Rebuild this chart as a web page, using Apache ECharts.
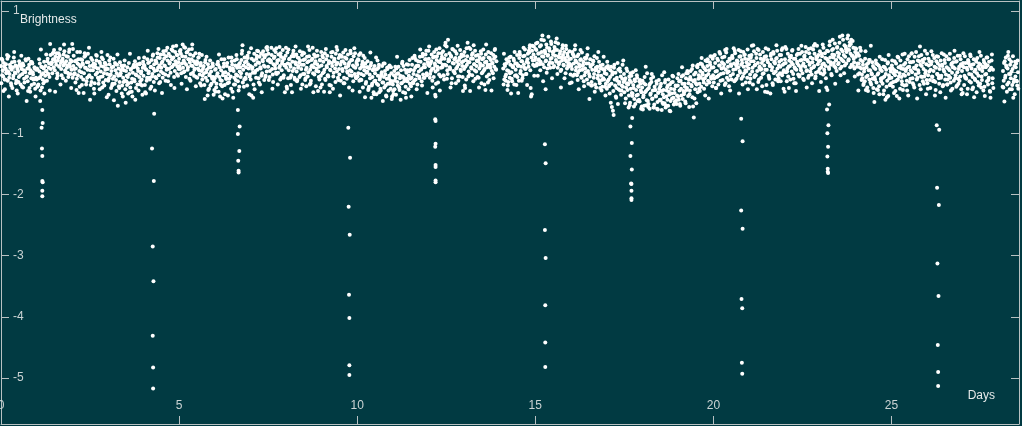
<!DOCTYPE html>
<html>
<head>
<meta charset="utf-8">
<script src="https://cdn.jsdelivr.net/npm/echarts@6/dist/echarts.min.js"></script>
<style>
html,body{margin:0;padding:0;background:#013a42;}
#c{width:1022px;height:426px;}
</style>
</head>
<body>
<div id="c"></div>
<script>
// Observation times within each day (days), three interleaved sets
const dayOffsetsA = [0.00,0.03,0.05,0.08,0.10,0.13,0.15,0.18,0.20,0.23,0.25,0.28,0.30,0.33,0.35,0.38,0.40,0.43,0.45,0.48,0.50,0.53,0.55,0.58,0.60,0.63,0.65,0.68,0.70,0.73,0.75,0.78,0.80,0.83,0.85,0.88,0.90,0.93,0.95,0.98];
const dayOffsetsB = [0.01,0.04,0.06,0.09,0.11,0.14,0.16,0.19,0.21,0.24,0.26,0.29,0.31,0.34,0.36,0.39,0.41,0.44,0.46,0.49,0.51,0.54,0.56,0.59,0.61,0.64,0.66,0.69,0.71,0.74,0.76,0.79,0.81,0.84,0.86,0.89,0.91,0.94,0.96,0.99];
const dayOffsetsC = [0.02,0.07,0.12,0.17,0.22,0.27,0.32,0.37,0.42,0.47,0.52,0.57,0.62,0.67,0.72,0.77,0.82,0.87,0.92,0.97];

// Brightness readings, set A, one array per day (null = no data)
const day00 = [0.10,-0.05,0.03,0.15,-0.12,0.06,-0.02,0.22,0.01,-0.09,0.12,-0.18,0.04,0.08,-0.06,0.17,-0.01,-0.14,0.09,0.02,-0.08,0.13,-0.20,0.05,-0.03,0.11,-0.11,0.00,0.19,-0.07,-0.15,0.07,-0.26,0.03,-0.10,0.14,-0.04,-0.19,0.06,-0.09];
const day01 = [-0.12,0.04,-0.20,0.01,-0.08,0.09,-0.25,-0.02,0.06,-0.15,0.10,0.02,0.18,-0.03,0.14,0.46,0.05,0.16,0.30,0.08,0.21,0.25,0.12,-0.02,0.19,0.09,0.27,0.15,-0.05,0.22,0.11,0.34,0.03,0.18,0.07,0.25,-0.03,0.14,0.20,0.04];
const day02 = [0.46,0.10,-0.04,0.18,0.06,-0.11,0.14,-0.34,0.02,0.09,-0.08,0.20,0.12,-0.02,0.31,0.07,-0.15,0.04,0.16,-0.05,-0.45,0.23,-0.09,0.03,0.14,-0.18,0.08,0.19,-0.01,0.06,-0.13,0.15,0.01,0.24,-0.07,0.09,-0.22,0.04,0.12,-0.03];
const day03 = [0.05,-0.10,0.13,-0.04,0.02,-0.19,0.09,-0.07,0.15,-0.13,-0.02,-0.55,0.06,-0.16,-0.05,0.11,-0.22,-0.09,0.03,-0.14,-0.50,-0.06,0.08,-0.18,-0.03,-0.25,0.05,-0.11,-0.01,0.12,-0.15,-0.04,0.09,-0.20,0.02,-0.08,0.14,-0.02,-0.12,0.07];
const day04 = [-0.06,0.10,-0.33,0.04,-0.09,0.15,0.01,-0.12,0.08,0.20,-0.03,0.06,0.13,-0.08,0.18,0.03,0.24,-0.05,0.11,0.29,0.07,0.17,-0.02,0.22,0.10,0.35,0.04,0.19,-0.06,0.14,0.26,0.08,0.21,0.42,0.12,0.02,0.18,0.28,0.09,0.16];
const day05 = [0.22,0.05,0.30,0.14,0.45,0.19,0.01,0.25,0.12,0.33,0.08,0.37,0.16,-0.03,0.21,0.10,0.27,0.04,0.15,-0.08,0.18,0.06,0.24,-0.04,0.11,0.02,-0.12,0.09,-0.02,0.16,-0.09,0.04,-0.38,0.07,-0.05,-0.22,0.01,-0.11,0.10,-0.15];
const day06 = [-0.10,0.05,-0.19,-0.02,0.12,-0.08,-0.40,0.03,-0.14,-0.05,0.09,-0.21,0.00,-0.11,0.15,-0.03,-0.17,0.06,-0.07,0.18,-0.32,0.02,-0.09,0.11,-0.04,0.07,-0.15,0.13,0.01,-0.08,0.20,0.44,0.04,-0.12,0.16,0.08,-0.03,0.23,0.06,-0.07];
const day07 = [0.10,-0.38,0.05,-0.42,0.19,-0.01,0.12,0.27,0.04,-0.10,0.15,0.08,0.30,-0.02,0.18,0.11,0.24,-0.06,0.40,0.36,0.09,0.21,0.02,0.17,0.28,-0.04,0.13,0.25,0.06,0.39,0.15,-0.01,0.20,0.10,0.31,0.03,0.18,-0.09,0.22,0.12];
const day08 = [0.40,-0.27,0.14,0.03,0.22,0.09,-0.05,0.17,0.30,0.06,-0.12,0.13,0.01,0.24,0.10,-0.08,0.19,0.05,0.28,-0.03,0.12,0.21,-0.10,0.07,0.16,0.00,0.26,0.04,-0.14,0.11,0.40,0.08,-0.04,0.18,0.02,0.13,-0.31,0.09,0.20,-0.06];
const day09 = [0.11,-0.02,0.17,0.04,-0.11,0.21,0.08,-0.05,0.14,-0.33,0.03,0.25,0.10,-0.07,0.19,0.06,0.30,0.01,0.15,0.23,-0.04,0.12,0.27,0.05,0.18,-0.09,0.14,0.08,0.22,-0.01,0.10,0.16,0.03,0.20,-0.06,0.11,0.26,-0.03,0.07,0.15];
const day10 = [0.12,-0.02,0.28,0.06,-0.12,0.09,0.17,-0.05,0.03,0.14,-0.16,0.01,0.08,-0.24,-0.04,0.11,-0.42,-0.08,0.05,-0.15,-0.02,0.24,-0.19,-0.06,0.07,-0.12,-0.27,-0.03,0.10,-0.17,-0.08,0.02,-0.22,-0.11,0.05,-0.30,-0.06,-0.14,0.08,-0.40];
const day11 = [-0.20,-0.05,-0.28,-0.09,0.06,-0.16,-0.02,-0.25,-0.10,0.03,-0.18,-0.07,0.10,-0.13,-0.34,-0.01,-0.11,0.12,-0.06,-0.19,0.04,-0.09,0.23,-0.03,-0.14,0.07,0.20,-0.05,0.11,0.01,-0.10,0.17,0.05,0.26,-0.04,0.13,0.08,0.21,-0.02,0.16];
const day12 = [0.35,0.10,-0.03,0.18,0.05,0.24,-0.08,0.14,0.01,0.20,0.09,0.31,-0.04,0.16,0.07,0.25,0.12,-0.06,0.22,0.48,0.11,0.03,0.53,0.19,0.08,0.27,-0.18,0.15,0.02,0.21,0.34,0.06,0.17,-0.07,0.13,0.24,0.04,0.29,0.10,0.18];
const day13 = [0.05,-0.26,0.20,0.12,0.48,0.01,0.16,0.38,0.08,-0.05,0.22,0.13,0.03,0.27,0.10,-0.08,0.19,0.06,0.14,0.30,-0.02,0.11,0.23,0.05,-0.29,0.17,0.08,0.33,-0.04,0.12,0.20,0.02,0.15,-0.10,0.09,0.25,0.04,null,null,null];
const day14 = [null,null,null,null,0.06,-0.12,0.10,-0.04,0.15,-0.22,0.02,-0.09,0.12,0.00,-0.15,0.08,0.19,-0.06,0.04,0.14,-0.08,0.11,0.23,-0.02,0.09,0.18,-0.05,0.13,0.27,0.06,-0.03,0.21,0.15,0.32,0.44,-0.40,-0.36,0.19,0.29,0.10];
const day15 = [0.24,0.36,0.14,0.30,0.21,0.42,0.17,0.33,0.60,0.25,0.08,0.31,0.19,0.40,0.27,0.12,0.35,0.22,0.46,0.15,0.29,0.10,0.38,0.20,0.55,0.07,0.26,0.16,0.34,0.04,0.19,0.28,0.11,0.23,-0.02,0.17,0.30,0.09,0.21,0.13];
const day16 = [0.22,0.05,0.30,0.14,-0.04,0.19,0.08,0.26,-0.01,0.13,0.03,0.21,-0.09,0.10,0.17,-0.05,0.06,0.24,-0.12,0.02,0.14,-0.07,0.09,-0.16,0.04,0.18,-0.03,-0.20,0.07,0.23,-0.10,0.01,-0.14,0.11,-0.06,-0.24,0.05,-0.12,-0.02,-0.19];
const day17 = [-0.03,-0.15,0.06,-0.21,-0.08,0.09,-0.57,-0.63,-0.70,-0.12,-0.01,-0.26,-0.14,0.04,-0.19,-0.30,-0.07,-0.22,0.12,-0.16,-0.33,-0.10,-0.25,0.02,-0.18,-0.38,-0.13,-0.27,-0.06,-0.35,-0.21,-0.44,-0.15,-0.29,-0.05,-0.37,-0.24,-0.48,-0.19,-0.33];
const day18 = [-0.25,-0.41,-0.18,-0.33,0.09,-0.46,-0.28,-0.52,-0.21,-0.37,-0.11,-0.44,-0.30,-0.58,-0.24,-0.39,-0.15,-0.49,-0.34,-0.27,-0.45,-0.19,-0.62,-0.36,-0.29,-0.51,-0.13,-0.40,-0.25,-0.55,-0.32,-0.20,-0.47,-0.35,-0.06,-0.42,-0.28,-0.50,-0.23,-0.38];
const day19 = [-0.22,-0.45,-0.30,-0.14,-0.38,-0.19,-0.05,-0.33,-0.24,-0.10,-0.29,-0.02,-0.18,-0.36,-0.08,-0.21,0.05,-0.56,-0.74,-0.13,-0.01,-0.20,0.08,-0.11,-0.27,0.02,-0.09,0.13,-0.04,-0.17,0.06,0.19,-0.06,0.10,-0.14,0.03,0.16,-0.08,0.07,0.22];
const day20 = [0.08,-0.10,0.15,-0.26,0.02,0.19,-0.05,0.11,-0.14,0.06,0.24,-0.02,0.13,0.36,0.04,-0.09,0.17,0.01,0.22,-0.06,0.10,0.27,-0.03,0.14,0.35,0.05,-0.11,0.18,0.08,0.25,-0.01,0.12,0.20,-0.07,0.09,0.29,0.03,0.16,-0.09,0.21];
const day21 = [0.13,-0.04,0.24,0.43,0.07,0.18,-0.08,0.12,0.30,0.02,0.15,-0.12,0.09,0.22,0.05,-0.03,0.19,0.11,-0.32,0.26,0.04,0.16,-0.06,0.10,-0.35,0.21,0.08,0.33,-0.02,0.14,0.01,0.23,0.06,-0.10,0.17,0.09,0.28,-0.05,0.12,0.03];
const day22 = [-0.32,0.15,0.38,0.06,-0.07,0.19,0.10,0.27,0.01,0.13,-0.11,0.08,0.22,0.04,0.17,-0.04,0.11,0.30,0.07,0.20,-0.02,0.14,0.25,0.09,0.33,0.03,0.18,-0.06,0.12,0.24,0.06,0.16,0.37,0.10,0.46,-0.01,0.21,0.13,0.28,0.05];
const day23 = [0.19,0.08,0.26,-0.04,0.14,0.31,0.10,0.22,-0.29,0.17,0.05,0.24,0.12,0.36,0.53,0.15,0.28,0.07,0.20,0.41,0.13,0.30,0.58,0.22,0.09,0.34,0.18,0.44,0.25,0.14,0.38,0.60,0.21,0.49,0.30,0.12,0.27,0.40,0.16,0.33];
const day24 = [0.25,0.09,0.31,0.14,-0.02,0.20,0.06,-0.10,0.12,0.01,-0.15,-0.29,0.08,-0.06,0.15,-0.12,0.03,-0.20,-0.04,0.10,-0.34,-0.08,0.05,-0.17,0.13,-0.02,-0.23,0.07,-0.11,0.02,-0.19,0.09,-0.07,-0.45,0.04,-0.14,0.16,-0.05,-0.21,0.01];
const day25 = [-0.09,0.06,-0.16,0.03,-0.05,0.14,-0.39,-0.12,0.08,-0.02,0.19,-0.08,-0.20,0.05,0.12,-0.06,0.02,-0.14,0.21,-0.03,0.09,-0.11,0.16,0.00,-0.18,0.07,0.25,-0.04,0.11,-0.09,0.03,0.18,0.42,-0.07,0.10,-0.15,0.05,0.22,-0.02,0.13];
const day26 = [0.30,-0.05,0.11,-0.13,0.04,0.17,-0.08,0.02,0.23,-0.16,0.07,-0.03,0.14,-0.10,0.05,0.19,-0.06,0.10,-0.21,0.01,0.15,-0.04,0.08,-0.12,0.21,0.03,-0.09,0.12,-0.01,0.16,-0.14,0.06,-0.05,0.18,0.00,-0.19,0.09,-0.07,0.13,0.02];
const day27 = [-0.34,0.08,-0.06,0.15,-0.11,0.04,0.20,-0.03,0.10,-0.17,0.06,-0.08,0.13,0.01,-0.13,0.17,-0.02,0.09,-0.22,0.05,0.12,-0.07,0.02,-0.30,0.16,-0.04,0.08,-0.15,0.11,-0.09,0.03,-0.42,0.07,-0.18,0.04,null,null,null,null,null];
const day28 = [null,null,null,null,null,0.02,-0.14,0.18,-0.06,0.08,-0.20,0.33,-0.03,0.12,-0.10,-0.28,0.05,-0.16,0.10,-0.07,0.14,-0.22,0.00];

// Brightness readings, set B
const dayB00 = [-0.18,0.20,-0.07,0.09,-0.28,0.13,0.02,-0.14,0.26,-0.03,0.07,-0.22,0.16,-0.10,0.24,-0.01,0.11,-0.30,0.05,-0.16,0.18,-0.05,0.09,-0.24,0.14,0.03,-0.17,0.21,-0.08,0.06,-0.31,0.12,-0.02,0.17,-0.21,0.00,-0.12,0.08,-0.27,0.04];
const dayB01 = [0.06,-0.22,-0.10,0.14,-0.30,-0.04,0.08,-0.18,0.17,-0.06,0.01,-0.14,0.22,0.07,-0.08,0.28,0.13,-0.02,0.21,0.36,0.03,0.17,0.31,-0.06,0.24,0.10,0.38,0.05,0.19,-0.10,0.29,0.14,0.00,0.26,0.11,-0.08,0.33,0.09,-0.03,0.18];
const dayB02 = [-0.09,0.27,0.05,-0.17,0.19,0.33,-0.05,0.12,-0.24,0.21,0.00,0.14,-0.12,0.25,0.07,-0.20,0.16,0.30,-0.07,0.10,0.03,-0.16,0.20,0.09,-0.27,0.13,-0.04,0.27,0.06,-0.19,0.17,-0.08,0.10,-0.25,0.21,-0.02,0.15,-0.13,0.06,0.28];
const dayB03 = [-0.14,0.19,-0.05,-0.26,0.08,-0.11,0.22,-0.19,0.03,-0.31,0.12,-0.06,-0.23,0.16,-0.02,-0.35,0.07,-0.16,0.11,-0.28,0.02,-0.21,-0.08,0.15,-0.33,0.04,-0.17,-0.40,0.09,-0.12,0.18,-0.26,-0.05,0.06,-0.30,0.13,-0.15,0.01,-0.22,0.17];
const dayB04 = [0.12,-0.21,0.05,-0.14,0.21,-0.02,0.16,-0.27,0.09,-0.07,0.27,-0.16,0.02,0.19,-0.10,0.31,0.07,-0.18,0.23,0.01,0.15,-0.09,0.34,0.11,-0.04,0.26,0.06,-0.15,0.30,0.16,-0.01,0.37,0.09,0.24,-0.08,0.33,0.13,-0.03,0.28,0.05];
const dayB05 = [0.10,0.36,-0.02,0.26,0.07,0.41,0.15,-0.08,0.32,0.04,0.21,-0.11,0.29,0.11,0.38,-0.01,0.18,0.06,0.31,0.13,-0.09,0.24,0.03,-0.18,0.15,0.28,-0.06,0.10,-0.21,0.20,0.00,-0.14,0.13,-0.27,-0.03,0.08,-0.19,0.14,-0.08,-0.29];
const dayB06 = [0.04,-0.25,-0.06,0.17,-0.32,0.08,-0.13,0.21,-0.23,-0.01,0.14,-0.36,-0.07,0.10,-0.18,0.24,-0.11,0.03,-0.27,0.12,0.06,-0.20,0.19,-0.13,0.28,-0.06,0.09,-0.24,0.15,-0.02,0.30,-0.17,0.11,0.24,-0.09,0.18,-0.22,0.13,0.32,-0.04];
const dayB07 = [-0.12,0.22,0.08,-0.20,0.30,0.02,-0.09,0.35,0.16,-0.17,0.25,0.06,-0.06,0.20,0.34,-0.13,0.09,0.28,0.01,0.19,0.30,-0.08,0.16,0.40,0.05,-0.16,0.23,0.11,0.33,-0.03,0.19,0.29,0.07,-0.12,0.25,0.14,0.36,-0.05,0.11,0.27];
const dayB08 = [0.07,0.32,-0.10,0.21,0.13,-0.21,0.26,0.02,0.35,-0.09,0.16,0.29,-0.15,0.07,0.23,0.34,-0.05,0.12,-0.20,0.20,0.31,-0.13,0.04,0.25,-0.07,0.18,0.36,-0.18,0.09,0.22,-0.02,0.29,0.14,-0.23,0.06,0.27,0.01,-0.12,0.19,0.33];
const dayB09 = [-0.20,0.24,0.00,0.31,-0.13,0.10,0.27,-0.07,0.18,0.04,-0.22,0.15,0.33,-0.01,0.22,-0.16,0.12,0.36,-0.09,0.05,0.28,-0.14,0.17,0.02,0.32,-0.18,0.24,0.07,-0.11,0.29,0.13,-0.05,0.35,0.01,0.20,-0.15,0.09,0.31,-0.08,0.18];
const dayB10 = [-0.07,0.20,-0.14,0.31,-0.03,0.13,-0.25,0.09,0.23,-0.19,-0.01,0.18,-0.29,0.06,-0.10,0.15,-0.22,0.03,-0.33,0.10,-0.14,-0.36,0.05,-0.21,0.12,-0.09,-0.30,0.00,-0.17,0.14,-0.25,-0.04,-0.38,0.07,-0.19,-0.10,0.11,-0.27,-0.02,-0.15];
const dayB11 = [-0.31,0.02,-0.14,-0.37,-0.03,-0.22,0.09,-0.29,-0.06,-0.18,0.14,-0.33,-0.09,0.04,-0.24,0.13,-0.15,-0.28,0.01,-0.11,-0.23,0.12,-0.17,0.03,0.27,-0.12,0.10,-0.20,0.18,-0.07,0.25,0.04,-0.15,0.30,0.08,-0.09,0.21,0.35,-0.05,0.12];
const dayB12 = [0.22,-0.09,0.14,0.29,-0.14,0.06,0.33,0.11,-0.19,0.26,0.04,0.17,0.39,-0.07,0.21,0.08,0.34,-0.12,0.12,0.28,0.42,-0.03,0.18,0.31,0.05,0.25,-0.10,0.37,0.14,-0.02,0.23,0.30,0.09,-0.14,0.20,0.36,0.02,0.16,-0.08,0.27];
const dayB13 = [0.33,0.09,-0.12,0.26,0.17,0.40,-0.04,0.22,0.06,0.31,-0.15,0.13,0.35,0.01,0.19,0.28,-0.09,0.24,0.10,-0.18,0.21,0.37,0.03,0.16,0.29,-0.07,0.12,0.24,-0.13,0.07,0.31,0.14,-0.02,0.22,0.36,0.05,0.18,null,null,null];
const dayB14 = [null,null,null,null,-0.20,0.13,-0.07,0.21,0.03,-0.16,0.18,-0.02,0.25,-0.11,0.09,0.22,-0.20,0.14,-0.05,0.28,0.10,-0.14,0.33,0.02,0.18,-0.10,0.26,0.07,0.37,-0.03,0.17,0.30,0.09,0.40,0.03,0.24,0.35,0.12,0.42,0.20];
const dayB15 = [0.38,0.11,0.48,0.20,0.31,0.03,0.44,0.26,0.13,0.52,0.35,0.18,0.45,0.06,0.28,0.39,0.16,0.50,0.23,0.33,0.08,0.41,0.27,0.17,0.36,0.47,0.13,0.30,0.02,0.24,0.39,0.12,0.33,0.20,0.43,0.06,0.26,0.15,0.34,-0.04];
const dayB16 = [0.10,0.33,-0.06,0.25,0.37,0.03,0.16,-0.13,0.29,0.09,0.20,-0.08,0.32,0.12,-0.15,0.23,0.00,0.14,0.28,-0.19,-0.03,0.21,0.11,-0.22,0.13,-0.09,0.26,0.03,-0.25,0.09,-0.05,0.17,-0.18,0.06,-0.30,0.12,-0.10,0.03,-0.24,0.08];
const dayB17 = [-0.27,0.10,-0.12,-0.35,0.03,-0.19,-0.04,-0.31,0.07,-0.22,-0.40,-0.09,0.15,-0.28,-0.16,0.01,-0.37,-0.11,-0.24,-0.03,-0.14,-0.43,0.06,-0.29,-0.20,-0.07,-0.50,-0.16,-0.34,0.00,-0.26,-0.12,-0.52,-0.38,-0.09,-0.23,-0.45,-0.13,-0.30,-0.56];
const dayB18 = [-0.14,-0.38,-0.55,-0.20,-0.31,-0.02,-0.47,-0.26,-0.60,-0.35,-0.16,-0.43,-0.08,-0.53,-0.29,-0.40,-0.19,-0.61,-0.33,-0.46,-0.23,-0.31,-0.05,-0.52,-0.41,-0.17,-0.58,-0.30,-0.45,-0.12,-0.37,-0.64,-0.27,-0.43,-0.16,-0.53,-0.34,-0.22,-0.46,-0.10];
const dayB19 = [-0.40,-0.15,-0.52,-0.27,-0.07,-0.44,-0.31,-0.19,-0.48,-0.02,-0.26,-0.39,-0.12,-0.30,0.02,-0.23,-0.41,-0.15,-0.04,-0.28,-0.18,0.10,-0.33,-0.05,-0.19,0.14,-0.24,-0.01,0.09,-0.27,-0.10,0.03,-0.20,0.21,-0.03,-0.17,0.12,-0.11,0.25,-0.05];
const dayB20 = [-0.17,0.28,0.01,-0.08,0.22,-0.20,0.11,0.30,-0.03,0.16,-0.13,0.07,0.25,-0.18,0.32,-0.01,0.09,-0.23,0.20,0.13,-0.12,0.23,0.04,-0.15,0.31,0.11,0.19,-0.06,0.36,0.02,0.26,-0.11,0.15,0.33,-0.02,0.22,-0.17,0.10,0.37,0.06];
const dayB21 = [0.27,-0.11,0.18,0.01,-0.20,0.34,0.11,-0.05,0.23,0.38,-0.16,0.07,0.29,-0.09,0.15,0.33,-0.02,0.25,0.04,-0.21,0.20,0.37,-0.08,0.12,0.27,0.03,-0.18,0.30,0.16,-0.12,0.22,0.35,-0.05,0.11,0.28,-0.15,0.20,0.39,0.00,0.14];
const dayB22 = [0.21,0.00,-0.15,0.30,0.09,0.25,-0.12,0.16,0.35,-0.03,0.22,0.06,-0.18,0.28,0.14,0.38,-0.07,0.19,0.03,0.33,0.11,-0.13,0.27,0.41,0.02,0.20,-0.09,0.31,0.15,0.39,-0.04,0.22,0.08,0.30,-0.10,0.25,0.43,0.01,0.17,0.34];
const dayB23 = [-0.02,0.30,0.13,0.40,0.04,0.23,-0.10,0.35,0.20,0.08,0.44,0.16,-0.03,0.29,0.38,0.10,0.47,0.19,0.02,0.32,0.25,0.48,0.06,0.37,0.20,0.53,0.28,0.11,0.42,0.33,0.55,0.19,0.36,0.08,0.46,0.27,0.51,0.22,0.06,0.39];
const dayB24 = [0.38,0.14,-0.04,0.27,0.08,0.35,-0.13,0.18,-0.21,0.06,0.22,-0.08,0.13,-0.31,0.03,0.20,-0.17,-0.02,0.16,-0.26,0.07,-0.12,0.19,-0.28,-0.04,0.11,-0.36,0.04,-0.15,0.21,-0.09,-0.30,0.08,-0.03,-0.24,0.14,-0.39,-0.10,0.06,-0.18];
const dayB25 = [0.11,-0.24,-0.02,0.18,-0.31,0.01,-0.13,0.24,-0.07,-0.27,0.10,-0.15,0.29,-0.04,-0.22,0.15,0.05,-0.30,0.08,0.26,-0.16,0.03,0.30,-0.10,0.17,-0.25,0.06,0.33,-0.12,0.19,-0.01,-0.21,0.12,0.28,-0.08,0.16,-0.19,0.35,0.02,-0.13];
const dayB26 = [-0.18,0.22,0.01,-0.26,0.13,-0.07,0.28,-0.14,0.09,-0.29,0.18,-0.03,0.25,-0.19,0.11,-0.09,0.31,-0.23,0.04,0.20,-0.12,0.26,-0.20,0.06,-0.06,0.30,-0.17,0.14,-0.27,0.08,0.23,-0.10,0.17,-0.22,0.27,0.05,-0.14,0.21,-0.28,0.10];
const dayB27 = [0.15,-0.21,0.26,-0.09,0.07,-0.27,0.18,-0.15,0.29,-0.04,0.12,-0.25,0.21,-0.11,0.04,-0.33,0.23,-0.06,0.14,-0.19,0.27,-0.13,0.09,0.20,-0.24,0.13,-0.03,0.24,-0.20,0.17,-0.31,0.06,0.19,-0.10,-0.26,null,null,null,null,null];
const dayB28 = [null,null,null,null,null,-0.25,0.15,-0.09,0.24,-0.32,0.06,-0.17,0.21,-0.03,0.17,-0.21,0.26,-0.12,-0.36,0.08,-0.14,0.19,-0.27];

// Brightness readings, set C (the wider scatter)
const dayC00 = [0.22,-0.31,-0.12,0.28,-0.40,0.09,-0.26,0.33,-0.18,-0.35,0.12,0.27,-0.25,0.02,-0.47,0.22,-0.32,0.16,-0.11,-0.40];
const dayC01 = [-0.24,0.21,0.37,-0.12,-0.35,0.29,-0.03,-0.30,0.15,0.32,-0.32,-0.10,0.31,-0.20,0.18,0.45,-0.14,-0.01,0.37,-0.26];
const dayC02 = [0.38,-0.02,-0.29,0.21,0.33,-0.21,-0.34,0.27,-0.09,0.40,-0.21,0.11,-0.35,0.28,-0.09,-0.28,0.33,-0.17,0.15,-0.41];
const dayC03 = [-0.37,0.24,-0.22,-0.46,0.13,0.29,-0.26,0.03,-0.40,0.19,-0.15,-0.35,0.30,-0.32,0.08,-0.45,0.13,0.23,-0.20,-0.37];
const dayC04 = [0.24,-0.35,0.35,-0.09,-0.24,0.29,-0.30,0.15,0.38,-0.16,-0.34,0.29,-0.14,0.40,0.05,-0.21,0.35,-0.26,0.43,-0.06];
const dayC05 = [0.34,-0.19,0.00,0.40,-0.28,0.21,-0.14,0.45,-0.06,-0.23,0.15,0.30,-0.22,0.05,-0.44,0.25,-0.29,0.19,-0.08,-0.37];
const dayC06 = [-0.32,0.13,0.29,-0.20,-0.43,0.21,-0.11,-0.38,0.07,0.24,-0.42,-0.20,0.21,-0.30,0.08,0.35,-0.24,-0.11,0.27,-0.36];
const dayC07 = [0.39,-0.01,-0.28,0.22,0.34,-0.20,-0.33,0.28,-0.08,0.41,-0.13,0.19,-0.27,0.36,-0.01,-0.20,0.41,-0.09,0.23,-0.33];
const dayC08 = [-0.24,0.37,-0.09,-0.33,0.26,0.42,-0.13,0.16,-0.27,0.32,-0.03,-0.23,0.42,-0.20,0.20,-0.33,0.25,0.35,-0.08,-0.25];
const dayC09 = [0.27,-0.32,0.38,-0.06,-0.21,0.32,-0.27,0.18,0.41,-0.13,-0.38,0.25,-0.18,0.36,0.01,-0.25,0.31,-0.30,0.39,-0.10];
const dayC10 = [0.21,-0.32,-0.13,0.27,-0.41,0.08,-0.27,0.32,-0.19,-0.36,0.04,0.19,-0.33,-0.06,-0.47,0.14,-0.40,0.08,-0.19,-0.44];
const dayC11 = [-0.36,0.09,0.25,-0.24,-0.45,0.17,-0.15,-0.42,0.03,0.20,-0.40,-0.18,0.23,-0.28,0.10,0.37,-0.22,-0.09,0.29,-0.34];
const dayC12 = [0.42,0.02,-0.25,0.25,0.37,-0.17,-0.30,0.31,-0.05,0.44,-0.11,0.21,-0.25,0.38,0.01,-0.18,0.43,-0.07,0.25,-0.31];
const dayC13 = [-0.22,0.39,-0.07,-0.31,0.28,0.44,-0.11,0.18,-0.25,0.34,0.00,-0.20,0.45,-0.17,0.23,-0.30,0.28,0.38,null,null];
const dayC14 = [null,null,0.30,-0.14,-0.29,0.24,-0.35,0.10,0.33,-0.21,-0.34,0.29,-0.14,0.40,0.05,-0.21,0.35,-0.26,0.43,-0.06];
const dayC15 = [0.47,-0.06,0.13,0.53,-0.15,0.34,-0.01,0.58,0.07,-0.10,0.34,0.49,-0.03,0.24,-0.25,0.44,-0.10,0.38,0.11,-0.18];
const dayC16 = [-0.17,0.28,0.44,-0.05,-0.28,0.36,0.04,-0.23,0.22,0.39,-0.44,-0.22,0.19,-0.32,0.06,0.33,-0.26,-0.13,0.25,-0.38];
const dayC17 = [0.17,-0.23,-0.50,0.00,0.12,-0.42,-0.52,0.06,-0.30,0.19,-0.51,-0.19,-0.58,-0.02,-0.39,-0.56,0.03,-0.47,-0.15,-0.60];
const dayC18 = [-0.61,-0.08,-0.54,-0.57,-0.19,-0.03,-0.58,-0.29,-0.60,-0.13,-0.45,-0.50,0.00,-0.55,-0.22,-0.63,-0.17,-0.07,-0.48,-0.52];
const dayC19 = [-0.03,-0.55,0.08,-0.36,-0.51,0.02,-0.57,-0.12,0.11,-0.43,-0.51,0.12,-0.31,0.23,-0.12,-0.38,0.18,-0.43,0.26,-0.23];
const dayC20 = [0.27,-0.26,-0.07,0.33,-0.35,0.14,-0.21,0.38,-0.13,-0.30,0.24,0.39,-0.13,0.14,-0.35,0.34,-0.20,0.28,0.01,-0.28];
const dayC21 = [-0.17,0.28,0.44,-0.05,-0.28,0.36,0.04,-0.23,0.22,0.39,-0.33,-0.11,0.30,-0.21,0.17,0.44,-0.15,-0.02,0.36,-0.27];
const dayC22 = [0.41,0.01,-0.26,0.24,0.36,-0.18,-0.31,0.30,-0.06,0.43,-0.11,0.21,-0.25,0.38,0.01,-0.18,0.43,-0.07,0.25,-0.31];
const dayC23 = [-0.16,0.45,-0.01,-0.25,0.34,0.50,-0.05,0.24,-0.19,0.40,0.15,-0.05,0.60,-0.02,0.38,-0.15,0.43,0.53,0.10,-0.07];
const dayC24 = [0.29,-0.30,0.40,-0.04,-0.19,0.34,-0.25,0.20,0.43,-0.11,-0.49,0.14,-0.29,0.25,-0.10,-0.36,0.20,-0.41,0.28,-0.21];
const dayC25 = [0.19,-0.34,-0.15,0.25,-0.43,0.06,-0.29,0.30,-0.21,-0.38,0.16,0.31,-0.21,0.06,-0.43,0.26,-0.28,0.20,-0.07,-0.36];
const dayC26 = [-0.27,0.18,0.34,-0.15,-0.38,0.26,-0.06,-0.33,0.12,0.29,-0.42,-0.20,0.21,-0.30,0.08,0.35,-0.24,-0.11,0.27,-0.36];
const dayC27 = [0.31,-0.09,-0.36,0.14,0.26,-0.28,-0.41,0.20,-0.16,0.33,-0.25,0.07,-0.39,0.24,-0.13,-0.32,0.29,null,null,null];
const dayC28 = [null,null,-0.24,-0.48,0.11,0.27,-0.28,0.01,-0.42,0.17,-0.15];

const dailyBrightnessA = [day00,day01,day02,day03,day04,day05,day06,day07,day08,day09,day10,day11,day12,day13,day14,day15,day16,day17,day18,day19,day20,day21,day22,day23,day24,day25,day26,day27,day28];
const dailyBrightnessB = [dayB00,dayB01,dayB02,dayB03,dayB04,dayB05,dayB06,dayB07,dayB08,dayB09,dayB10,dayB11,dayB12,dayB13,dayB14,dayB15,dayB16,dayB17,dayB18,dayB19,dayB20,dayB21,dayB22,dayB23,dayB24,dayB25,dayB26,dayB27,dayB28];
const dailyBrightnessC = [dayC00,dayC01,dayC02,dayC03,dayC04,dayC05,dayC06,dayC07,dayC08,dayC09,dayC10,dayC11,dayC12,dayC13,dayC14,dayC15,dayC16,dayC17,dayC18,dayC19,dayC20,dayC21,dayC22,dayC23,dayC24,dayC25,dayC26,dayC27,dayC28];

// Eclipse points [day, brightness]
const secondaryEclipses = [
  [1.10,-0.47],[1.16,-0.62],[1.17,-0.83],[1.14,-0.91],[1.15,-1.25],[1.16,-1.37],[1.16,-1.78],[1.17,-1.80],[1.16,-1.94],[1.16,-2.03],
  [6.65,-0.62],[6.70,-0.89],[6.65,-1.01],[6.69,-1.29],[6.66,-1.45],[6.67,-1.61],[6.67,-1.64],
  [12.19,-0.37],[12.20,-0.40],[12.19,-0.77],[12.20,-0.80],[12.20,-1.17],[12.19,-1.22],[12.20,-1.52],[12.20,-1.55],[12.20,-1.77],[12.20,-1.80],
  [17.65,-0.54],[17.72,-0.75],[17.67,-0.89],[17.71,-1.16],[17.67,-1.37],[17.71,-1.59],[17.69,-1.82],[17.70,-1.83],[17.70,-1.94],[17.70,-2.06],[17.70,-2.09],
  [23.25,-0.53],[23.19,-0.61],[23.23,-0.87],[23.20,-1.00],[23.22,-1.22],[23.20,-1.38],[23.21,-1.58],[23.21,-1.63],[23.22,-1.65]
];
const primaryEclipses = [
  [4.30,-0.68],[4.24,-1.25],[4.29,-1.78],[4.26,-2.85],[4.28,-3.42],[4.26,-4.31],[4.27,-4.83],[4.27,-5.17],
  [9.75,-0.91],[9.80,-1.40],[9.76,-2.20],[9.79,-2.66],[9.77,-3.64],[9.78,-4.02],[9.78,-4.79],[9.78,-4.95],
  [15.29,-0.28],[15.27,-1.18],[15.29,-1.49],[15.27,-2.58],[15.29,-3.04],[15.28,-3.81],[15.28,-4.42],[15.28,-4.82],
  [20.78,-0.76],[20.82,-1.13],[20.78,-2.26],[20.82,-2.56],[20.79,-3.71],[20.81,-3.86],[20.80,-4.75],[20.81,-4.93],
  [26.27,-0.87],[26.34,-0.94],[26.28,-1.89],[26.33,-2.17],[26.29,-3.13],[26.32,-3.66],[26.30,-4.46],[26.31,-4.90],[26.31,-5.13]
];

const xRange = [0, 28.58];
const yRange = [-5.752, 1.163];

const baseline = [];
function addDays(days, offsets) {
  days.forEach((arr, d) => {
    arr.forEach((v, j) => {
      if (v !== null && v !== undefined && offsets[j] !== undefined) baseline.push([+(d + offsets[j]).toFixed(2), v]);
    });
  });
}
addDays(dailyBrightnessA, dayOffsetsA);
addDays(dailyBrightnessB, dayOffsetsB);
addDays(dailyBrightnessC, dayOffsetsC);

const AX = '#b8c1c2';
const LBL = '#ccd4d4';
const NAME = '#e6eaea';
const FONT = '"Liberation Sans", Arial, sans-serif';

function intLabel(step) {
  return function (v) {
    const r = Math.round(v / step) * step;
    return Math.abs(v - r) < 1e-6 ? String(r) : '';
  };
}

function axisCommon(extra) {
  return Object.assign({
    type: 'value',
    axisLine: {show: true, onZero: false, lineStyle: {color: AX, width: 1}},
    axisTick: {show: true, inside: true, length: 8, lineStyle: {color: AX}},
    splitLine: {show: false}
  }, extra);
}

const chart = echarts.init(document.getElementById('c'), null, {renderer: 'canvas'});
chart.setOption({
  backgroundColor: '#013a42',
  animation: false,
  grid: {left: 1, right: 3, top: 1, bottom: 2, containLabel: false, outerBoundsMode: 'none'},
  xAxis: [
    axisCommon({min: xRange[0], max: xRange[1], position: 'bottom',
      axisLabel: {inside: true, margin: 12, color: LBL, fontSize: 12, fontFamily: FONT, formatter: intLabel(5)}}),
    axisCommon({min: xRange[0], max: xRange[1], position: 'top', axisLabel: {show: false}})
  ],
  yAxis: [
    axisCommon({min: yRange[0], max: yRange[1], position: 'left',
      axisLabel: {inside: true, margin: 12, color: LBL, fontSize: 12, fontFamily: FONT, formatter: intLabel(1)}}),
    axisCommon({min: yRange[0], max: yRange[1], position: 'right', axisLabel: {show: false}})
  ],
  graphic: [
    {type: 'text', x: 20, y: 19.5, style: {text: 'Brightness', fill: NAME, font: '12px ' + FONT, textAlign: 'left', textVerticalAlign: 'middle'}},
    {type: 'text', x: 995, y: 396, style: {text: 'Days', fill: NAME, font: '12px ' + FONT, textAlign: 'right', textVerticalAlign: 'middle'}}
  ],
  series: [
    {type: 'scatter', data: baseline, symbolSize: 4, itemStyle: {color: '#ffffff', opacity: 1}, silent: true, large: false},
    {type: 'scatter', data: secondaryEclipses, symbolSize: 4, itemStyle: {color: '#ffffff', opacity: 1}, silent: true},
    {type: 'scatter', data: primaryEclipses, symbolSize: 4, itemStyle: {color: '#ffffff', opacity: 1}, silent: true}
  ]
});
</script>
</body>
</html>
